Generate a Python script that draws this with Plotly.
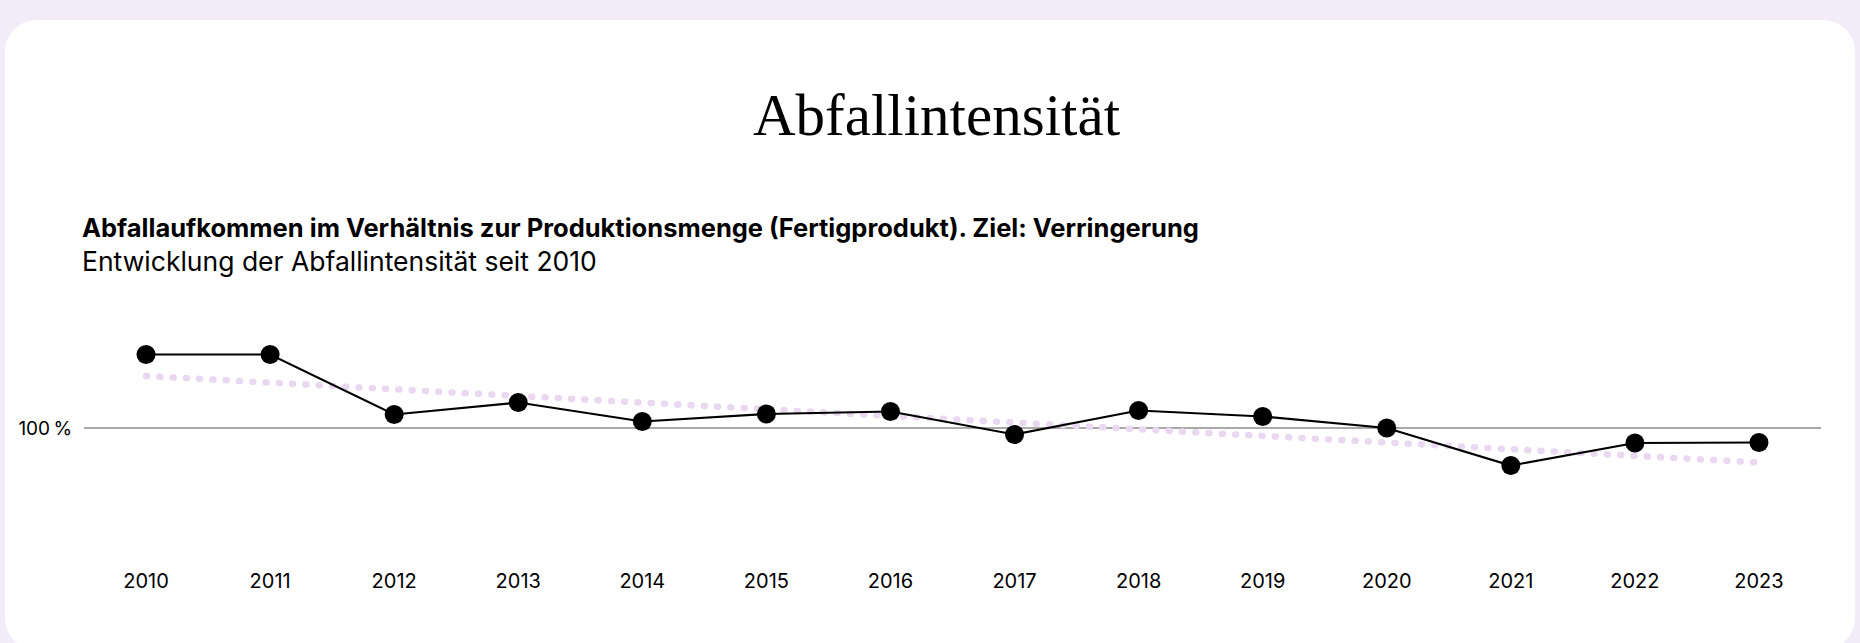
import plotly.graph_objects as go

# ---------------- data ----------------
years = [2010, 2011, 2012, 2013, 2014, 2015, 2016, 2017, 2018, 2019, 2020, 2021, 2022, 2023]
intensity = [114.7, 114.7, 102.7, 105.1, 101.3, 102.8, 103.3, 98.7, 103.5, 102.3, 100.0, 92.5, 97.0, 97.1]
trend_years = [2010, 2023]
trend_values = [110.4, 93.1]
y_tickvals = [100]
y_ticktext = ["100\u2009%"]
x_ticktext = [str(y) for y in years]

title_text = "Abfallintensität"
subtitle_bold = "Abfallaufkommen im Verhältnis zur Produktionsmenge (Fertigprodukt). Ziel: Verringerung"
subtitle_text = "Entwicklung der Abfallintensität seit 2010"

# ---------------- layout geometry (pixels) ----------------
W, H = 1860, 643
L, R, T, B = 84, 39, 290, 88
PW, PH = W - L - R, H - T - B
PLOT_BOTTOM = H - B


def px_x(px):
    return (px - L) / PW


def px_y(py):
    return (PLOT_BOTTOM - py) / PH


FONT = "Inter"
LAVENDER = "#f2ecf8"
TREND = "#e9d8f0"

fig = go.Figure()

fig.add_trace(go.Scatter(
    x=trend_years, y=trend_values, mode="lines",
    line=dict(color=TREND, width=6.5, dash="1px,12.3px"),
    hoverinfo="skip", showlegend=False,
))

fig.add_trace(go.Scatter(
    x=years, y=intensity, mode="lines+markers",
    line=dict(color="#000000", width=2.2),
    marker=dict(color="#000000", size=19),
    showlegend=False,
))

# rounded white card
cx0, cx1, cy0, cy1, rad = 5, 1855, 20, 650, 32
k = 0.5523 * rad
path = (
    f"M {px_x(cx0 + rad)},{px_y(cy0)} "
    f"L {px_x(cx1 - rad)},{px_y(cy0)} "
    f"C {px_x(cx1 - rad + k)},{px_y(cy0)} {px_x(cx1)},{px_y(cy0 + rad - k)} {px_x(cx1)},{px_y(cy0 + rad)} "
    f"L {px_x(cx1)},{px_y(cy1 - rad)} "
    f"C {px_x(cx1)},{px_y(cy1 - rad + k)} {px_x(cx1 - rad + k)},{px_y(cy1)} {px_x(cx1 - rad)},{px_y(cy1)} "
    f"L {px_x(cx0 + rad)},{px_y(cy1)} "
    f"C {px_x(cx0 + rad - k)},{px_y(cy1)} {px_x(cx0)},{px_y(cy1 - rad + k)} {px_x(cx0)},{px_y(cy1 - rad)} "
    f"L {px_x(cx0)},{px_y(cy0 + rad)} "
    f"C {px_x(cx0)},{px_y(cy0 + rad - k)} {px_x(cx0 + rad - k)},{px_y(cy0)} {px_x(cx0 + rad)},{px_y(cy0)} Z"
)
fig.add_shape(type="path", path=path, xref="paper", yref="paper",
              fillcolor="#ffffff", line=dict(width=0), layer="below")

fig.add_annotation(text=title_text, xref="paper", yref="paper",
                   x=px_x(937), y=px_y(115), xanchor="center", yanchor="middle",
                   showarrow=False,
                   font=dict(family="Liberation Serif", size=59, color="#000000"))
fig.add_annotation(text=f"<b>{subtitle_bold}</b>", xref="paper", yref="paper",
                   x=px_x(79.5), y=px_y(227), xanchor="left", yanchor="middle",
                   showarrow=False,
                   font=dict(family=FONT, size=25.5, color="#000000"))
fig.add_annotation(text=subtitle_text, xref="paper", yref="paper",
                   x=px_x(79.5), y=px_y(261), xanchor="left", yanchor="middle",
                   showarrow=False,
                   font=dict(family=FONT, size=26.5, color="#000000"))

fig.update_layout(
    width=W, height=H, autosize=False,
    margin=dict(l=L, r=R, t=T, b=B, pad=0),
    paper_bgcolor=LAVENDER,
    plot_bgcolor="rgba(0,0,0,0)",
    font=dict(family=FONT, color="#000000", size=20),
    showlegend=False,
    xaxis=dict(
        range=[2009.5, 2023.5], tickmode="array", tickvals=years, ticktext=x_ticktext,
        showgrid=False, zeroline=False, showline=False,
        ticks="outside", ticklen=8, tickcolor="rgba(0,0,0,0)",
        tickfont=dict(family=FONT, size=20, color="#000000"),
        fixedrange=True,
    ),
    yaxis=dict(
        range=[74.6, 127.6], tickmode="array", tickvals=y_tickvals, ticktext=y_ticktext,
        showgrid=True, gridcolor="#a9a9a9", gridwidth=1.5,
        zeroline=False, showline=False,
        ticks="outside", ticklen=7, tickcolor="rgba(0,0,0,0)",
        tickfont=dict(family=FONT, size=19, color="#000000"),
        fixedrange=True,
    ),
)

post = (
    "document.body.style.margin='0';"
    "document.body.style.background='" + LAVENDER + "';"
    "var gd=document.getElementById('{plot_id}');"
    "var tr=gd.querySelectorAll('.scatterlayer .trace')[0];"
    "if(tr){tr.querySelectorAll('path.js-line').forEach(function(p){p.style.strokeLinecap='round';});}"
)

fig.write_html("out.html", post_script=post, config={"displayModeBar": False})
